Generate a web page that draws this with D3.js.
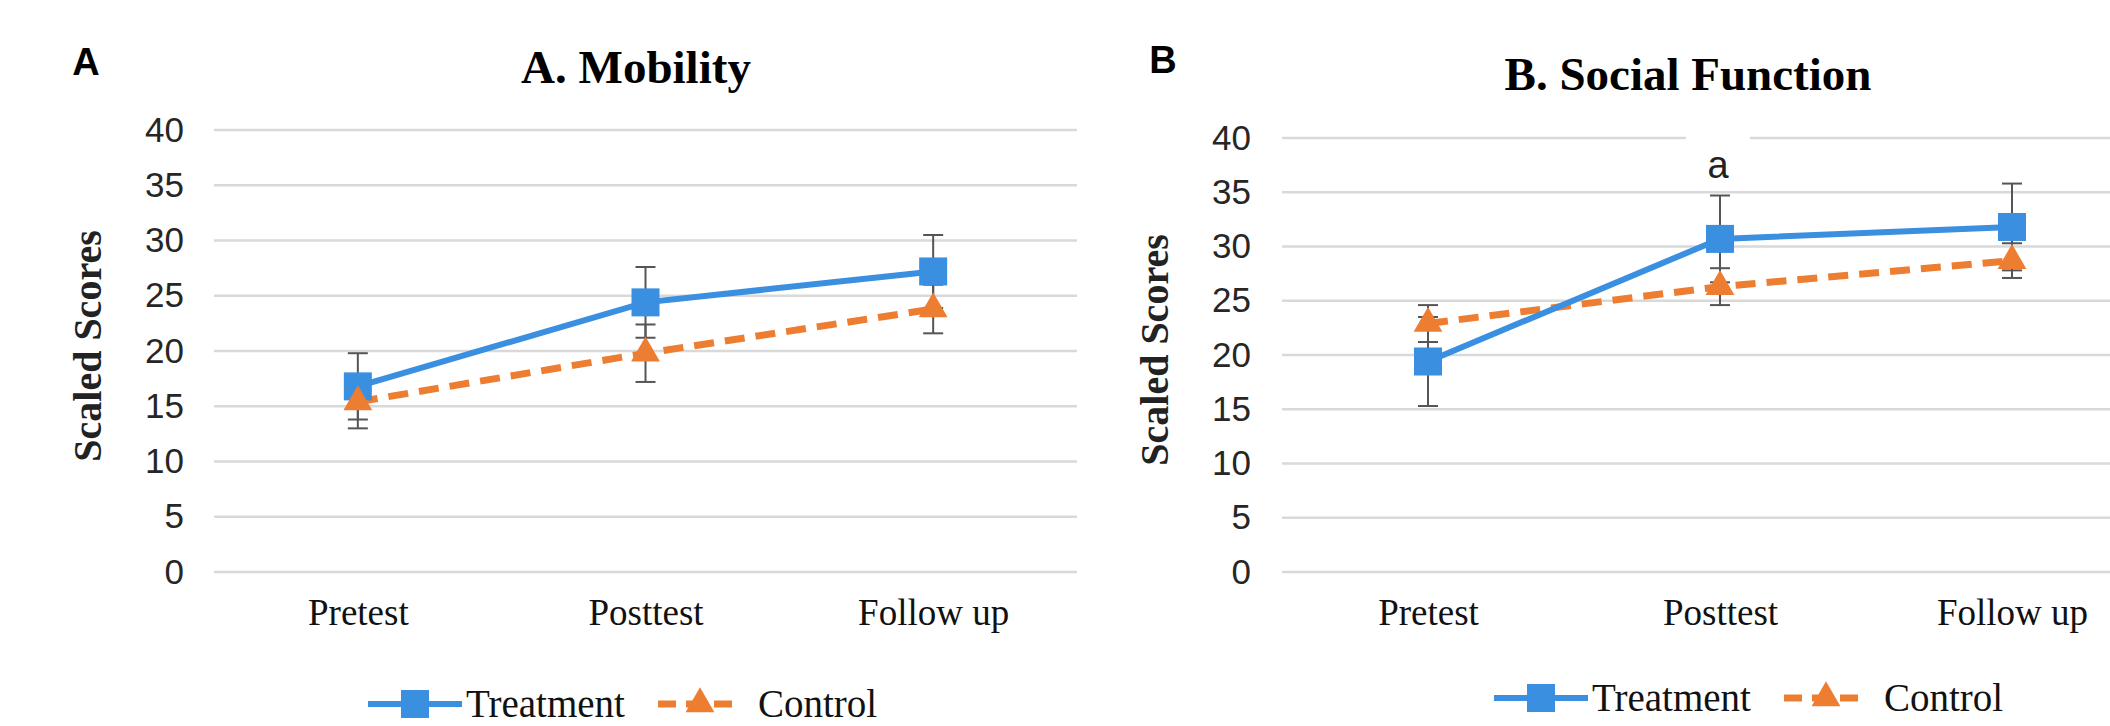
<!DOCTYPE html>
<html>
<head>
<meta charset="utf-8">
<script src="https://cdn.jsdelivr.net/npm/d3@7"></script>
<style>
  body { margin: 0; background: #fff; }
  svg { display: block; }
</style>
</head>
<body>
<svg id="chart" width="2110" height="726"></svg>
<script>
// categories and ticks
const phases = ["Pretest", "Posttest", "Follow up"];
const yTicks = [0, 5, 10, 15, 20, 25, 30, 35, 40];
const seriesNames = ["Treatment", "Control"];

// A. Mobility
const mobilityTreatment = [16.8, 24.4, 27.2];
const mobilityTreatmentSD = [3.0, 3.2, 3.3];
const mobilityControl = [15.4, 19.8, 23.8];
const mobilityControlSD = [2.4, 2.6, 2.2];

// B. Social Function
const socialTreatment = [19.4, 30.7, 31.8];
const socialTreatmentSD = [4.1, 4.0, 4.0];
const socialControl = [22.9, 26.3, 28.7];
const socialControlSD = [1.7, 1.7, 1.6];

const blue = "#3b8fe0";
const orange = "#ed7d31";
const serif = "'Liberation Serif', 'Times New Roman', serif";
const sans = "'Liberation Sans', Arial, sans-serif";

const svg = d3.select("#chart");
svg.append("rect").attr("width", 2110).attr("height", 726).attr("fill", "#fff");

function drawPanel(p) {
  const g = svg.append("g");

  const x = d3.scalePoint().domain(phases).range([p.left, p.right]).padding(0.5);
  const y = d3.scaleLinear().domain([0, 40]).range([572, p.top]);

  // panel letter
  g.append("text")
    .attr("x", p.letterX).attr("y", p.letterY)
    .attr("text-anchor", "middle")
    .style("font-family", sans).style("font-weight", "bold").style("font-size", "38px")
    .text(p.letter);

  // title
  g.append("text")
    .attr("x", p.titleX).attr("y", p.titleY)
    .attr("text-anchor", "middle")
    .style("font-family", serif).style("font-weight", "bold").style("font-size", "47px")
    .text(p.title);

  // gridlines
  g.selectAll(".grid")
    .data(yTicks)
    .join("line")
      .attr("x1", p.left).attr("x2", p.right)
      .attr("y1", d => y(d)).attr("y2", d => y(d))
      .attr("stroke", "#d9d9d9").attr("stroke-width", 2.5);

  // y axis labels
  const yAxis = g.append("g")
    .attr("transform", `translate(${p.tickX},0)`)
    .call(d3.axisLeft(y).tickValues(yTicks).tickSize(0).tickPadding(0));
  yAxis.select(".domain").remove();
  yAxis.selectAll("text")
    .style("font-family", sans).style("font-size", "35px").attr("fill", "#262626");

  // x axis labels
  const xAxis = g.append("g")
    .attr("transform", "translate(0,598)")
    .call(d3.axisBottom(x).tickSize(0).tickPadding(0));
  xAxis.select(".domain").remove();
  xAxis.selectAll("text")
    .attr("dy", "0.72em")
    .style("font-family", serif).style("font-size", "37px").attr("fill", "#111");

  // y title
  g.append("text")
    .attr("transform", `translate(${p.yTitleX},${p.yTitleY}) rotate(-90)`)
    .attr("text-anchor", "middle")
    .style("font-family", serif).style("font-weight", "bold").style("font-size", "40px")
    .attr("fill", "#222")
    .text("Scaled Scores");

  // annotation
  if (p.note) {
    g.append("rect")
      .attr("x", p.note.x - 32).attr("y", y(40) - 10)
      .attr("width", 64).attr("height", 50)
      .attr("fill", "#fff");
    g.append("text")
      .attr("x", p.note.x).attr("y", p.note.y)
      .attr("text-anchor", "middle")
      .style("font-family", sans).style("font-size", "38px").attr("fill", "#222")
      .text(p.note.text);
  }

  const line = d3.line().x((d, i) => x(phases[i])).y(d => y(d));

  // error bars
  [[p.treatment, p.treatmentSD], [p.control, p.controlSD]].forEach(([vals, sds]) => {
    const eb = g.append("g").attr("stroke", "#555").attr("stroke-width", 2);
    vals.forEach((v, i) => {
      const cx = x(phases[i]);
      eb.append("line").attr("x1", cx).attr("x2", cx)
        .attr("y1", y(v - sds[i])).attr("y2", y(v + sds[i]));
      [v - sds[i], v + sds[i]].forEach(e => {
        eb.append("line").attr("x1", cx - 10).attr("x2", cx + 10)
          .attr("y1", y(e)).attr("y2", y(e));
      });
    });
  });

  // control line (dashed)
  g.append("path")
    .datum(p.control)
    .attr("d", line)
    .attr("fill", "none").attr("stroke", orange)
    .attr("stroke-width", 7).attr("stroke-dasharray", "20,11");

  // treatment line
  g.append("path")
    .datum(p.treatment)
    .attr("d", line)
    .attr("fill", "none").attr("stroke", blue).attr("stroke-width", 6);

  // markers
  g.selectAll(".sq")
    .data(p.treatment)
    .join("rect")
      .attr("x", (d, i) => x(phases[i]) - 14).attr("y", d => y(d) - 14)
      .attr("width", 28).attr("height", 28)
      .attr("fill", blue);

  const tri = d3.symbol().type(d3.symbolTriangle).size(360);
  g.selectAll(".tri")
    .data(p.control)
    .join("path")
      .attr("d", tri)
      .attr("transform", (d, i) => `translate(${x(phases[i])},${y(d)})`)
      .attr("fill", orange);

  // legend
  const lg = g.append("g").attr("transform", `translate(${p.legendX},${p.legendY})`);
  lg.append("line").attr("x1", 0).attr("x2", 94).attr("y1", 0).attr("y2", 0)
    .attr("stroke", blue).attr("stroke-width", 6);
  lg.append("rect").attr("x", 33).attr("y", -14).attr("width", 28).attr("height", 28).attr("fill", blue);
  lg.append("text").attr("x", 98).attr("y", 13)
    .style("font-family", serif).style("font-size", "39px").attr("fill", "#111")
    .text(seriesNames[0]);
  lg.append("line").attr("x1", 290).attr("x2", 374).attr("y1", 0).attr("y2", 0)
    .attr("stroke", orange).attr("stroke-width", 7).attr("stroke-dasharray", "18,10");
  lg.append("path").attr("d", tri).attr("transform", "translate(332,0)").attr("fill", orange);
  lg.append("text").attr("x", 390).attr("y", 13)
    .style("font-family", serif).style("font-size", "39px").attr("fill", "#111")
    .text(seriesNames[1]);
}

drawPanel({
  letter: "A", letterX: 86, letterY: 75,
  title: "A. Mobility", titleX: 636, titleY: 83,
  left: 214, right: 1077, top: 130, tickX: 184,
  yTitleX: 101, yTitleY: 346,
  treatment: mobilityTreatment, treatmentSD: mobilityTreatmentSD,
  control: mobilityControl, controlSD: mobilityControlSD,
  legendX: 368, legendY: 704
});

drawPanel({
  letter: "B", letterX: 1163, letterY: 73,
  title: "B. Social Function", titleX: 1688, titleY: 90,
  left: 1282, right: 2158, top: 138, tickX: 1251,
  yTitleX: 1168, yTitleY: 350,
  treatment: socialTreatment, treatmentSD: socialTreatmentSD,
  control: socialControl, controlSD: socialControlSD,
  legendX: 1494, legendY: 698,
  note: { text: "a", x: 1718, y: 178 }
});
</script>
</body>
</html>
